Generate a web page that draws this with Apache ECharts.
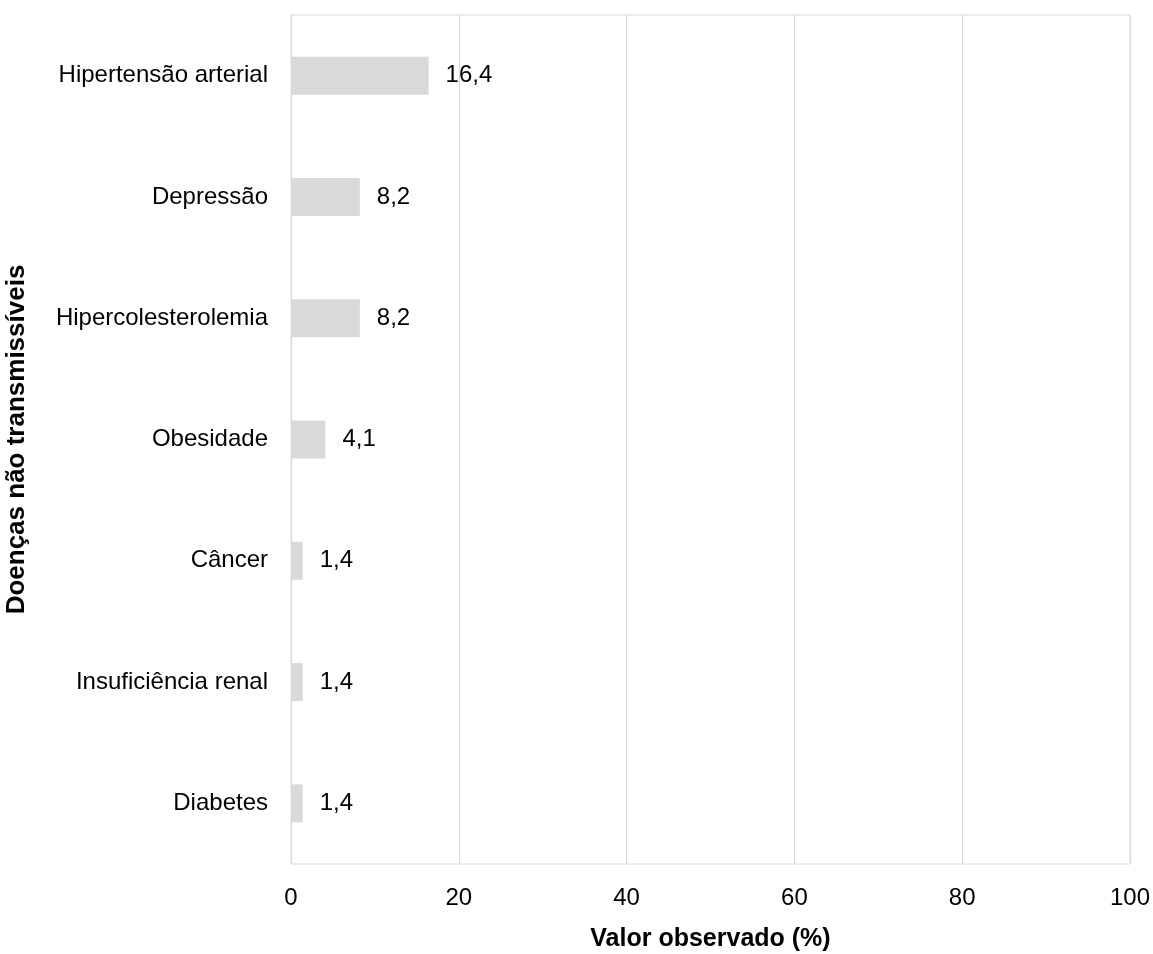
<!DOCTYPE html>
<html><head><meta charset="utf-8">
<script src="https://cdn.jsdelivr.net/npm/echarts@6/dist/echarts.min.js"></script>
<style>html,body{margin:0;padding:0;background:#fff}#c{width:1153px;height:954px}</style>
</head><body><div id="c"></div>
<script>
const categories = ['Diabetes','Insuficiência renal','Câncer','Obesidade','Hipercolesterolemia','Depressão','Hipertensão arterial'];
const values = [1.4, 1.4, 1.4, 4.1, 8.2, 8.2, 16.4];
const xTicks = [0, 20, 40, 60, 80, 100];
const xTitle = 'Valor observado (%)';
const yTitle = 'Doenças não transmissíveis';

const font = 'Liberation Sans, Arial, sans-serif';
const chart = echarts.init(document.getElementById('c'));
chart.setOption({
  animation: false,
  grid: {left: 291, right: 23, top: 15, bottom: 90, show: true, borderColor: '#d9d9d9', borderWidth: 1,
         containLabel: false, outerBoundsMode: 'none'},
  xAxis: {
    type: 'value', min: xTicks[0], max: xTicks[xTicks.length-1], interval: 20,
    name: xTitle, nameLocation: 'middle', nameGap: 63,
    nameTextStyle: {fontFamily: font, fontSize: 25, fontWeight: 'bold', color: '#000'},
    axisLine: {show: false}, axisTick: {show: false},
    axisLabel: {fontFamily: font, fontSize: 24, color: '#000', margin: 22},
    splitLine: {show: true, lineStyle: {color: '#d9d9d9', width: 1}}
  },
  yAxis: {
    type: 'category', data: categories,
    name: yTitle, nameLocation: 'middle', nameGap: 261,
    nameTextStyle: {fontFamily: font, fontSize: 26, fontWeight: 'bold', color: '#000'},
    axisLine: {show: true, lineStyle: {color: '#d9d9d9'}}, axisTick: {show: false},
    axisLabel: {fontFamily: font, fontSize: 24, color: '#000', margin: 23}
  },
  series: [{
    type: 'bar', data: values, barWidth: 38,
    itemStyle: {color: '#d9d9d9'},
    label: {show: true, position: 'right', distance: 17, fontFamily: font, fontSize: 24, color: '#000',
      formatter: p => String(p.value).replace('.', ',')}
  }]
});
</script></body></html>
